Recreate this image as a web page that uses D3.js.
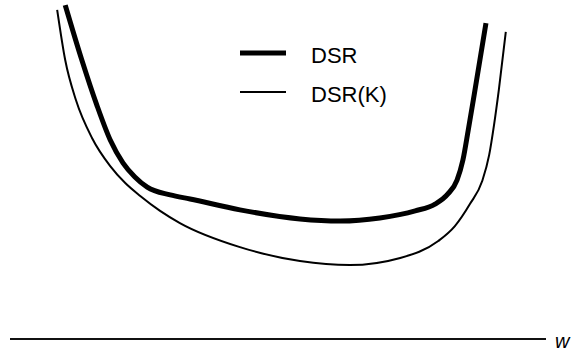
<!DOCTYPE html>
<html>
<head>
<meta charset="utf-8">
<script src="https://cdn.jsdelivr.net/npm/d3@7"></script>
<style>
  html, body { margin: 0; padding: 0; background: #fff; }
  svg { display: block; }
</style>
</head>
<body>
<svg id="chart" width="571" height="353"></svg>
<script>
// w on the horizontal axis, DSR on the vertical (arbitrary units 0-100)
var dsrW  = [10.3, 13.4, 16.2, 18.7, 21.1, 23.3, 25.6, 29.9, 33.6, 42.9, 54.1, 61.6, 69.0, 75.6, 79.3, 81.7, 83.4, 84.5, 85.5, 86.6, 88.8];
var dsrV  = [98.5, 82.3, 69.0, 58.7, 51.9, 47.8, 44.8, 42.5, 41.3, 38.1, 35.4, 34.8, 35.7, 37.8, 39.8, 42.8, 46.9, 52.8, 61.7, 72.0, 93.2];
var dsrkW = [8.8, 10.3, 12.3, 15.3, 18.7, 21.5, 24.3, 28.0, 31.7, 42.9, 54.1, 63.4, 72.8, 79.9, 83.0, 85.8, 88.1, 89.4, 90.3, 91.2, 92.5];
var dsrkV = [97.1, 82.3, 70.5, 59.3, 51.0, 46.0, 42.2, 37.8, 34.2, 27.1, 23.0, 21.8, 23.9, 28.9, 33.3, 39.8, 46.6, 54.3, 63.1, 73.5, 90.6];
var seriesNames = ["DSR", "DSR(K)"];
var axisLabel = "w";

function createChart() {
    var svg = d3.select("#chart");

    var x = d3.scaleLinear().domain([0, 100]).range([10, 546]);
    var y = d3.scaleLinear().domain([0, 100]).range([339, 0]);

    var series = [
        { name: seriesNames[0], pts: d3.zip(dsrW, dsrV), width: 5 },
        { name: seriesNames[1], pts: d3.zip(dsrkW, dsrkV), width: 2 }
    ];

    var line = d3.line()
        .x(function(d) { return x(d[0]); })
        .y(function(d) { return y(d[1]); })
        .curve(d3.curveMonotoneX);

    svg.append("g")
        .selectAll("path")
        .data(series)
        .enter()
        .append("path")
            .attr("d", function(d) { return line(d.pts); })
            .attr("fill", "none")
            .attr("stroke", "#000")
            .attr("stroke-width", function(d) { return d.width; });

    // horizontal axis, just a bare line
    svg.append("line")
        .attr("x1", x(0)).attr("x2", x(100))
        .attr("y1", y(0)).attr("y2", y(0))
        .attr("stroke", "#111")
        .attr("stroke-width", 2);

    svg.append("text")
        .attr("x", 555)
        .attr("y", 348)
        .attr("font-family", "Liberation Sans, Arial, sans-serif")
        .attr("font-style", "italic")
        .attr("font-size", 20)
        .text(axisLabel);

    // legend
    var legend = svg.append("g")
        .selectAll("g")
        .data(series)
        .enter()
        .append("g")
            .attr("transform", function(d, i) { return "translate(240," + (53 + i * 39) + ")"; });

    legend.append("line")
        .attr("x1", 0).attr("x2", 46)
        .attr("stroke", "#000")
        .attr("stroke-width", function(d) { return d.width; });

    legend.append("text")
        .attr("x", 71)
        .attr("y", 10)
        .attr("font-family", "Liberation Sans, Arial, sans-serif")
        .attr("font-size", 22)
        .text(function(d) { return d.name; });
}

createChart();
</script>
</body>
</html>
